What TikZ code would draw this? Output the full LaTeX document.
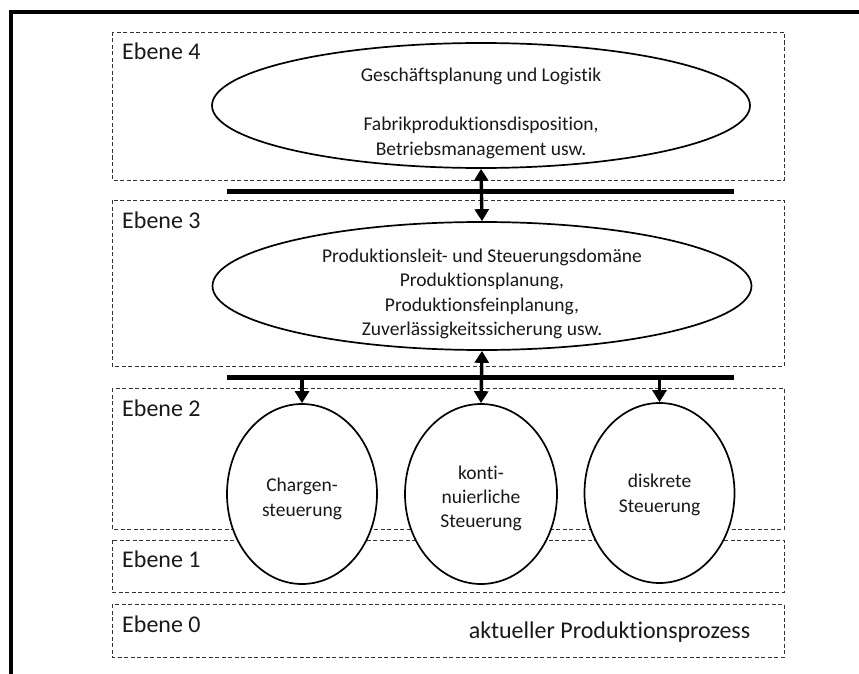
\documentclass[tikz,border=0pt]{standalone}
\usepackage{fontspec}
\setmainfont{Carlito}[Ligatures=NoCommon]
\usetikzlibrary{shapes.geometric,arrows.meta}
\begin{document}
\begin{tikzpicture}[x=1pt,y=-1pt,
  level/.style={draw=black!80, dash pattern=on 4pt off 2.5pt, line width=0.9pt},
  lvllabel/.style={anchor=base west, font=\fontsize{24}{29}\selectfont, inner sep=0pt, text=black!90},
  ell/.style={draw, fill=white, ellipse, line width=1.7pt, inner sep=0pt},
  elltext/.style={align=center, font=\fontsize{19.5}{24.4}\selectfont, inner sep=0pt, text=black!90},
  bus/.style={line width=5pt},
  arr/.style={line width=3.4pt, -{Triangle[width=14pt,length=12pt]}},
  darr/.style={line width=3.4pt, {Triangle[width=14pt,length=12pt]}-{Triangle[width=14pt,length=12pt]}}]
\useasboundingbox (0,0) rectangle (859,674);
% frame
\draw[line width=3.5pt, line join=miter] (11,674) -- (11,12) -- (859,12);
% level boxes
\draw[level] (112,32) rectangle (784,180);
\draw[level] (112,200) rectangle (784,366);
\draw[level] (112,388) rectangle (784,529);
\draw[level] (112,540) rectangle (784,592);
\draw[level] (112,604) rectangle (784,657);
\node[lvllabel] (l4) at (122,60) {Ebene 4};
\node[lvllabel] (l3) at (122,228) {Ebene 3};
\node[lvllabel] (l2) at (122,416) {Ebene 2};
\node[lvllabel] (l1) at (122,567) {Ebene 1};
\node[lvllabel] (l0) at (122,632) {Ebene 0};
\node[anchor=base, font=\fontsize{24}{29}\selectfont, inner sep=0pt, text=black!90] (proc) at (609.5,638) {aktueller Produktionsprozess};
% ellipses
\node[ell, minimum width=538pt, minimum height=125pt] (e4) at (481,105.5) {};
\node[elltext] (t4) at ([yshift=-8pt]e4.center) {Geschäftsplanung und Logistik\\[24.4pt]Fabrikproduktionsdisposition,\\Betriebsmanagement usw.};
\node[ell, minimum width=539pt, minimum height=128pt] (e3) at (482,286) {};
\node[elltext] (t3) at ([yshift=-8pt]e3.center) {Produktionsleit- und Steuerungsdomäne\\Produktionsplanung,\\Produktionsfeinplanung,\\Zuverlässigkeitssicherung usw.};
\node[ell, minimum width=150pt, minimum height=180pt] (ec) at (302,494) {};
\node[elltext] (tc) at ([yshift=-5pt]ec.center) {Chargen-\\steuerung};
\node[ell, minimum width=152pt, minimum height=180pt] (ek) at (481,494) {};
\node[elltext] (tk) at ([yshift=-4.5pt]ek.center) {konti-\\nuierliche\\Steuerung};
\node[ell, minimum width=150pt, minimum height=180pt] (ed) at (659.5,493) {};
\node[elltext] (td) at ([yshift=-2pt]ed.center) {diskrete\\Steuerung};
% buses
\coordinate (b1l) at (227,191);
\coordinate (b1r) at (734,191);
\coordinate (b2l) at (227,377);
\coordinate (b2r) at (734,377);
\draw[bus] (b1l) -- (b1r);
\draw[bus] (b2l) -- (b2r);
% arrows
\draw[darr] (e4.south) -- (e3.north);
\draw[darr] (e3.south) -- (ek.north);
\draw[arr] (ec.north |- b2l) -- (ec.north);
\draw[arr] (ed.north |- b2l) -- (ed.north);
\end{tikzpicture}
\end{document}
